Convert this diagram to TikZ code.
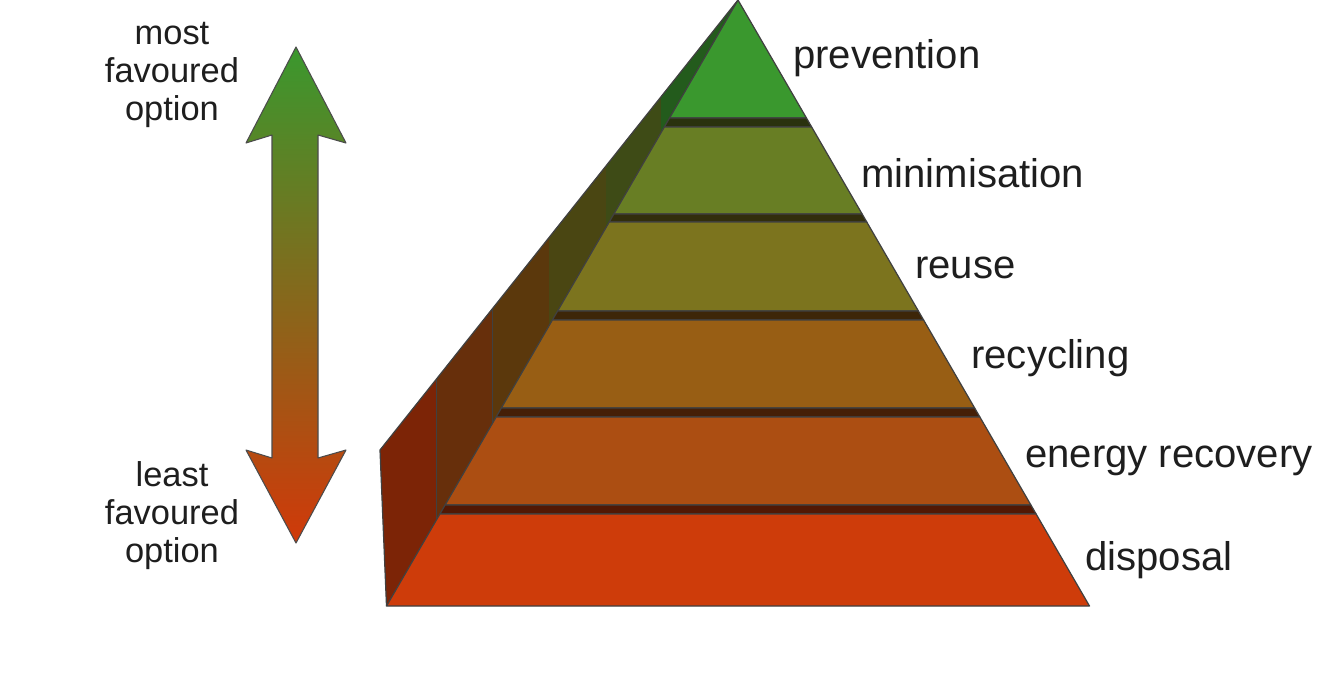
\documentclass[tikz,border=0pt]{standalone}
\usepackage{fontspec}
\setmainfont{Liberation Sans}
\usetikzlibrary{positioning}

\definecolor{prevgreen}{RGB}{58,152,46}
\definecolor{minigreen}{RGB}{104,126,36}
\definecolor{reuseolive}{RGB}{124,116,30}
\definecolor{recybrown}{RGB}{152,94,20}
\definecolor{energyorange}{RGB}{172,78,18}
\definecolor{disposalred}{RGB}{206,60,10}
\definecolor{labeltext}{RGB}{30,30,30}

\begin{document}
\begin{tikzpicture}[
    x=0.02cm, y=-0.02cm,
    face style/.style={draw=black!75, line width=0.7pt, line join=round},
    band style/.style={draw=black!75, line width=0.7pt, line join=round},
    layer label/.style={anchor=base west, inner sep=0pt, text=labeltext, font=\fontsize{22.8}{27}\selectfont},
    option label/.style={anchor=base, align=center, inner sep=0pt, text=labeltext, font=\fontsize{19.6}{21.4}\selectfont}
]
\useasboundingbox (0,0) rectangle (1343,683);
\fill[white] (0,0) rectangle (1343,683);

% double arrow
\shadedraw[top color=prevgreen, bottom color=disposalred!95!red, draw=black!70, line width=0.6pt, line join=round]
  (296,47) -- (346,143) -- (318,135) -- (318,458) -- (346,450) -- (296,543)
  -- (246,450) -- (272,458) -- (272,135) -- (246,143) -- cycle;

% base anchor sits on the last line
\node[option label] (most) at (172,120) {most\\favoured\\option};
\node[option label] (least) at (172,562) {least\\favoured\\option};

% side of the pyramid
\begin{scope}
  \clip (386.5,606) -- (380,450) -- (738,0) -- cycle;
  \foreach \col/\vl/\vr in {disposalred/370/436.9, energyorange/436.9/493.1, recybrown/493.1/549.4,
                            reuseolive/549.4/606.2, minigreen/606.2/661.3, prevgreen/661.3/750}
  {
    \fill[\col!60!black] (\vl,0) rectangle (\vr,683);
    \draw[black!75, line width=0.7pt] (\vr,0) -- (\vr,683);
  }
\end{scope}
\draw[black!75, line width=0.7pt, line join=round] (386.5,606) -- (380,450) -- (738,0);

% front layers
\foreach \col/\a/\t/\b in {prevgreen/0/0/118, minigreen/118/127/214, reuseolive/214/222/311,
                           recybrown/311/320/408, energyorange/408/417/505, disposalred/505/514/606}
{
  \filldraw[band style, fill=\col!40!black] ({738-0.58*\a},\a) -- ({738+0.58*\a},\a)
    -- ({738+0.58*\t},\t) -- ({738-0.58*\t},\t) -- cycle;
  \filldraw[face style, fill=\col] ({738-0.58*\t},\t) -- ({738+0.58*\t},\t)
    -- ({738+0.58*\b},\b) -- ({738-0.58*\b},\b) -- cycle;
}

\node[layer label] (prevention) at (793,68) {prevention};
\node[layer label] (minimisation) at (861,187) {minimisation};
\node[layer label] (reuse) at (915,278) {reuse};
\node[layer label] (recycling) at (971,368) {recycling};
\node[layer label] (energy) at (1025,467) {energy recovery};
\node[layer label] (disposal) at (1085,570) {disposal};
\end{tikzpicture}
\end{document}
